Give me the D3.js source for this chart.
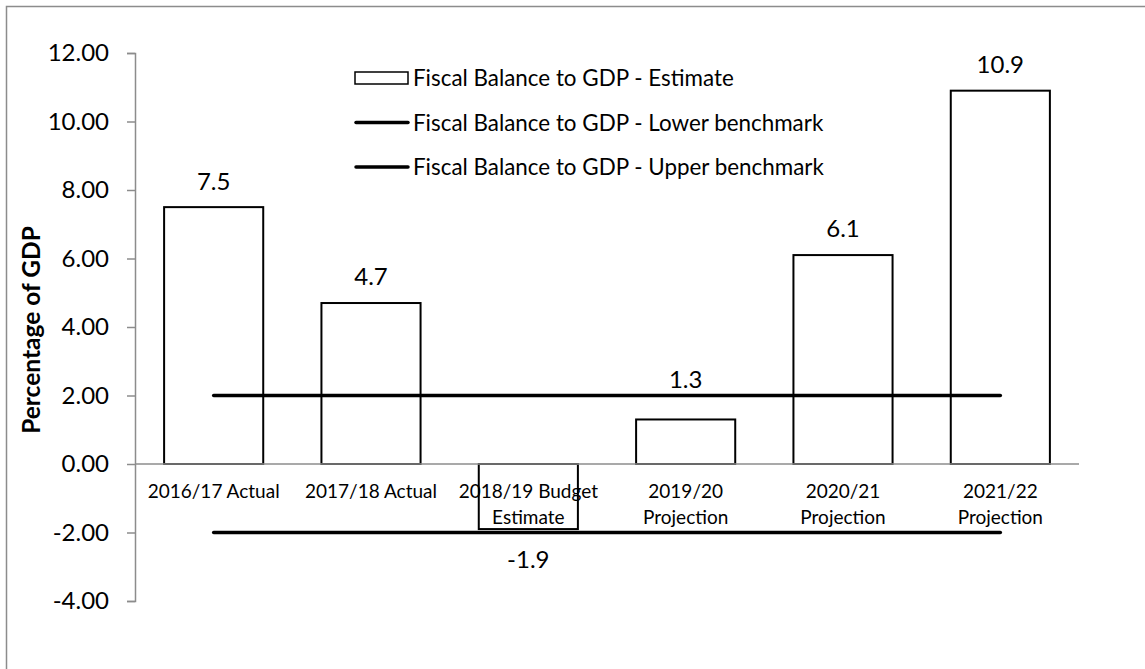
<!DOCTYPE html>
<html>
<head>
<meta charset="utf-8">
<script src="https://cdn.jsdelivr.net/npm/d3@7"></script>
<style>
  html, body { margin: 0; padding: 0; background: #fff; }
  svg { display: block; }
  text { font-family: Lato, "Open Sans", sans-serif; fill: #000; }
</style>
</head>
<body>
<svg id="chart" width="1145" height="669"></svg>
<script>
// Fiscal balance to GDP: estimates/projections with benchmark band
const categories = [
  "2016/17 Actual",
  "2017/18 Actual",
  "2018/19 Budget Estimate",
  "2019/20 Projection",
  "2020/21 Projection",
  "2021/22 Projection"
];
const estimate = [7.5, 4.7, -1.9, 1.3, 6.1, 10.9];
const lowerBenchmark = [-2, -2, -2, -2, -2, -2];
const upperBenchmark = [2, 2, 2, 2, 2, 2];
const yTicks = [-4, -2, 0, 2, 4, 6, 8, 10, 12];
const seriesNames = [
  "Fiscal Balance to GDP - Estimate",
  "Fiscal Balance to GDP - Lower benchmark",
  "Fiscal Balance to GDP - Upper benchmark"
];
const yTitle = "Percentage of GDP";

const svg = d3.select("#chart");
const fmt = d3.formatLocale({ decimal: ".", thousands: ",", grouping: [3], currency: ["", ""], minus: "-" });
const tickFmt = fmt.format(".2f");
const valFmt = fmt.format(".1f");

// chart frame
svg.append("rect")
  .attr("x", 6.5).attr("y", 6.5)
  .attr("width", 1300).attr("height", 800)
  .attr("fill", "none").attr("stroke", "#8c8c8c").attr("stroke-width", 1.5);

const x = d3.scaleBand().domain(categories).range([135, 1079])
  .paddingInner(0.37).paddingOuter(0.185);
const y = d3.scaleLinear().domain([-4, 12]).range([601, 53]);

// bars
svg.append("g").selectAll("rect")
  .data(estimate)
  .join("rect")
  .attr("x", (d, i) => x(categories[i]))
  .attr("width", x.bandwidth())
  .attr("y", d => y(Math.max(0, d)))
  .attr("height", d => Math.abs(y(d) - y(0)))
  .attr("fill", "#fff")
  .attr("stroke", "#000")
  .attr("stroke-width", 2);

// y axis
const yAxis = svg.append("g")
  .attr("transform", "translate(135,0)")
  .call(d3.axisLeft(y).tickValues(yTicks).tickFormat(tickFmt).tickSize(8).tickPadding(18));
yAxis.select(".domain").attr("stroke", "#8c8c8c").attr("stroke-width", 1.5);
yAxis.selectAll(".tick line").attr("stroke", "#8c8c8c").attr("stroke-width", 1.5);
yAxis.selectAll(".tick text")
  .attr("font-size", 24).attr("font-family", "Lato, sans-serif").attr("fill", "#000");

// x axis line at zero
svg.append("line")
  .attr("x1", 135).attr("x2", 1079)
  .attr("y1", y(0)).attr("y2", y(0))
  .attr("stroke", "#8c8c8c").attr("stroke-width", 1.5);

// category labels, wrapped to the band step
const catFont = 19;
const catG = svg.append("g");
categories.forEach((c, i) => {
  const cx = x(c) + x.bandwidth() / 2;
  const t = catG.append("text")
    .attr("x", cx)
    .attr("y", y(0) + 34)
    .attr("text-anchor", "middle")
    .attr("font-size", catFont);
  const words = c.split(" ");
  let line = [];
  let tspan = t.append("tspan").attr("x", cx).attr("dy", 0);
  words.forEach(w => {
    line.push(w);
    tspan.text(line.join(" "));
    if (tspan.node().getComputedTextLength() > x.step() - 4 && line.length > 1) {
      line.pop();
      tspan.text(line.join(" "));
      line = [w];
      tspan = t.append("tspan").attr("x", cx).attr("dy", 26).text(w);
    }
  });
});

// benchmark lines, from first to last category centre
const line = d3.line()
  .x((d, i) => x(categories[i]) + x.bandwidth() / 2)
  .y(d => y(d));
[lowerBenchmark, upperBenchmark].forEach(s => {
  svg.append("path")
    .attr("d", line(s))
    .attr("fill", "none")
    .attr("stroke", "#000")
    .attr("stroke-width", 3.5)
    .attr("stroke-linecap", "round");
});

// value labels
svg.append("g").selectAll("text")
  .data(estimate)
  .join("text")
  .attr("x", (d, i) => x(categories[i]) + x.bandwidth() / 2)
  .attr("y", (d, i) => {
    if (d < 0) return y(d) + 31;
    let cy = y(d) - 26;
    // keep label clear of the upper benchmark line
    const ly = y(upperBenchmark[i]);
    if (Math.abs(cy - ly) < 14) cy = ly - 16;
    return cy;
  })
  .attr("dy", "0.35em")
  .attr("text-anchor", "middle")
  .attr("font-size", 24)
  .text(d => valFmt(d));

// y axis title
svg.append("text")
  .attr("transform", "translate(31,330) rotate(-90)")
  .attr("dy", "0.35em")
  .attr("text-anchor", "middle")
  .attr("font-size", 24.5)
  .attr("font-weight", "bold")
  .text(yTitle);

// legend
const legend = svg.append("g");
seriesNames.forEach((name, i) => {
  const ry = 78 + i * 44.5;
  if (i === 0) {
    legend.append("rect")
      .attr("x", 355).attr("y", ry - 6)
      .attr("width", 53).attr("height", 12)
      .attr("fill", "#fff").attr("stroke", "#000").attr("stroke-width", 1.5);
  } else {
    legend.append("line")
      .attr("x1", 356).attr("x2", 408)
      .attr("y1", ry).attr("y2", ry)
      .attr("stroke", "#000").attr("stroke-width", 3.5)
      .attr("stroke-linecap", "round");
  }
  legend.append("text")
    .attr("x", 413).attr("y", ry + 8)
    .attr("font-size", 22.4)
    .text(name);
});
</script>
</body>
</html>
